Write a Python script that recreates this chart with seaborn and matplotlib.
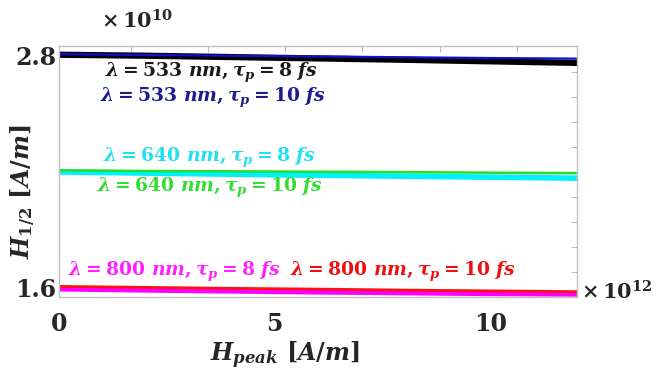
import numpy as np
import pandas as pd
import matplotlib
matplotlib.use("Agg")
import matplotlib.pyplot as plt
import seaborn as sns

# H_peak in units of 1e12 A/m, H_1/2 in units of 1e10 A/m
h_peak = [0, 2, 4, 6, 8, 10, 12]
h533_8 = [2.802, 2.797, 2.790, 2.783, 2.776, 2.768, 2.760]
h533_10 = [2.805, 2.801, 2.797, 2.793, 2.789, 2.785, 2.782]
h640_8 = [2.198, 2.192, 2.186, 2.181, 2.176, 2.171, 2.166]
h640_10 = [2.206, 2.203, 2.201, 2.199, 2.197, 2.194, 2.192]
h800_8 = [1.596, 1.590, 1.585, 1.580, 1.576, 1.572, 1.569]
h800_10 = [1.608, 1.603, 1.598, 1.594, 1.589, 1.585, 1.581]

series_names = ["533_10", "533_8", "640_8", "640_10", "800_8", "800_10"]
series_vals = [h533_10, h533_8, h640_8, h640_10, h800_8, h800_10]
labels = [r"$\lambda = 533\ nm, \tau_p = 10\ fs$", r"$\lambda = 533\ nm, \tau_p = 8\ fs$",
          r"$\lambda = 640\ nm, \tau_p = 8\ fs$", r"$\lambda = 640\ nm, \tau_p = 10\ fs$",
          r"$\lambda = 800\ nm, \tau_p = 8\ fs$", r"$\lambda = 800\ nm, \tau_p = 10\ fs$"]

sns.set_style("white")
plt.rcParams["font.family"] = ["DejaVu Serif"]
plt.rcParams["mathtext.fontset"] = "custom"
plt.rcParams["mathtext.rm"] = "DejaVu Serif:bold"
plt.rcParams["mathtext.it"] = "DejaVu Serif:italic:bold"
plt.rcParams["mathtext.bf"] = "DejaVu Serif:bold"

df = pd.concat([pd.DataFrame({"x": h_peak, "y": v, "s": n})
                for n, v in zip(series_names, series_vals)])

line_col = {"533_10": "#1010d0", "533_8": "#000000", "640_8": "#00f0ff",
            "640_10": "#22e022", "800_8": "#ff00ff", "800_10": "#ff1010"}
line_w = {"533_10": 1.6, "533_8": 4.5, "640_8": 4.0, "640_10": 1.8,
          "800_8": 4.0, "800_10": 2.0}
draw_order = ["533_8", "533_10", "640_8", "640_10", "800_8", "800_10"]

fig = plt.figure(figsize=(6.63, 3.73), dpi=100)
ax = fig.add_axes([0.089, 0.2046, 0.781, 0.671])
for n in draw_order:
    sns.lineplot(data=df[df["s"] == n], x="x", y="y", color=line_col[n],
                 linewidth=line_w[n], ax=ax, legend=False)

ax.set_xlim(0, 12)
ax.set_ylim(1.555, 2.845)

ax.set_xticks([0, 5, 10])
ax.set_xticklabels(["0", "5", "10"], fontsize=17, fontweight="bold")
ax.set_yticks([1.6, 2.8])
ax.set_yticklabels(["1.6", "2.8"], fontsize=17, fontweight="bold")
ax.set_xticks([1.68, 3.45, 5.24, 7.02, 8.83, 10.61], minor=True)
ax.set_yticks(np.linspace(1.682, 2.712, 9), minor=True)
ax.tick_params(axis="x", which="major", length=0, pad=11)
ax.tick_params(axis="y", which="major", length=0, pad=2)
ax.tick_params(which="minor", direction="in", length=4, color="#b0b0b0",
               top=True, right=True)
for sp in ax.spines.values():
    sp.set_color("#c0c0c0")
    sp.set_linewidth(1.0)

ax.set_xlabel(r"$H_{peak}\ [A/m]$", fontsize=17)
ax.set_ylabel(r"$H_{1/2}\ [A/m]$", fontsize=17)
ax.xaxis.set_label_coords(0.436, -0.17)
ax.yaxis.set_label_coords(-0.04, 0.42)

text_col = {"533_10": "#1c1c90", "533_8": "#1a1a1a", "640_8": "#22e0f0",
            "640_10": "#33dd33", "800_8": "#ff22ff", "800_10": "#ee1111"}
text_pos = {"533_8": (1.07, 2.707), "533_10": (0.95, 2.578),
            "640_8": (1.02, 2.269), "640_10": (0.88, 2.115),
            "800_8": (0.21, 1.682), "800_10": (5.35, 1.682)}
for n, lab in zip(series_names, labels):
    tx, ty = text_pos[n]
    ax.text(tx, ty, lab, color=text_col[n], fontsize=13.5, ha="left", va="center")

fig.text(0.152, 0.945, r"$\times\,\mathbf{10^{10}}$", fontsize=15, ha="left", va="center")
fig.text(0.876, 0.218, r"$\times\,\mathbf{10^{12}}$", fontsize=15, ha="left", va="center")

fig.savefig("out.png", dpi=100)
